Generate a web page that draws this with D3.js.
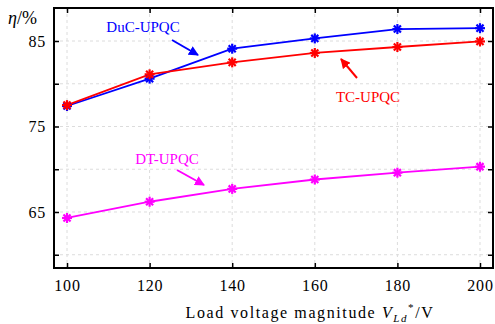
<!DOCTYPE html>
<html><head><meta charset="utf-8">
<script src="https://cdn.jsdelivr.net/npm/d3@7"></script>
<style>body{margin:0;background:#fff}</style>
</head><body><svg id="c" width="495" height="324"></svg>
<script>
const xValues = [100, 120, 140, 160, 180, 200];
const duc = [77.4, 80.6, 84.1, 85.3, 86.4, 86.5];
const tc = [77.5, 81.1, 82.5, 83.6, 84.3, 84.95];
const dt = [64.3, 66.2, 67.7, 68.8, 69.6, 70.3];
const xTicks = [100, 120, 140, 160, 180, 200];
const yTicks = [60, 65, 70, 75, 80, 85];
const yLabels = [65, 75, 85];
const series = [
  {name: "DuC-UPQC", values: duc, color: "#0000ff"},
  {name: "TC-UPQC", values: tc, color: "#ff0000"},
  {name: "DT-UPQC", values: dt, color: "#ff00ff"}
];
const svg = d3.select("#c");
const L = 54, R = 493, T = 8, B = 268;
const x = d3.scaleLinear().domain([96.85, 203.15]).range([L, R]);
const y = d3.scaleLinear().domain([58.45, 88.86]).range([B, T]);
const font = "Liberation Serif, Times New Roman, serif";

// grid
svg.append("g").selectAll("line.gx").data(xTicks).join("line")
  .attr("x1", d => x(d)).attr("x2", d => x(d)).attr("y1", T).attr("y2", B)
  .attr("stroke", "#dcdcdc").attr("stroke-dasharray", "3,3").attr("stroke-width", 1);
svg.append("g").selectAll("line.gy").data(yTicks).join("line")
  .attr("y1", d => y(d)).attr("y2", d => y(d)).attr("x1", L).attr("x2", R)
  .attr("stroke", "#dcdcdc").attr("stroke-dasharray", "3,3").attr("stroke-width", 1);

// axes
const ax = (g, axis) => { g.call(axis); g.select(".domain").remove();
  g.selectAll(".tick line").attr("stroke", "#000").attr("stroke-width", 1.5);
  g.selectAll("text").attr("font-family", font).attr("font-size", 16).attr("letter-spacing", 0.8).attr("fill", "#000"); };
svg.append("g").attr("transform", `translate(0,${B})`)
  .call(g => ax(g, d3.axisBottom(x).tickValues(xTicks).tickSize(-5).tickPadding(12)));
svg.append("g").attr("transform", `translate(0,${T})`)
  .call(g => ax(g, d3.axisTop(x).tickValues(xTicks).tickSize(-5).tickFormat("")));
svg.append("g").attr("transform", `translate(${L},0)`)
  .call(g => ax(g, d3.axisLeft(y).tickValues(yTicks).tickSize(-5).tickPadding(8)
    .tickFormat(d => yLabels.includes(d) ? d : "")));
svg.append("g").attr("transform", `translate(${R},0)`)
  .call(g => ax(g, d3.axisRight(y).tickValues(yTicks).tickSize(-5).tickFormat("")));
svg.append("rect").attr("x", L).attr("y", T).attr("width", R - L).attr("height", B - T)
  .attr("fill", "none").attr("stroke", "#000").attr("stroke-width", 2);

// lines
const line = d3.line().x((d, i) => x(xValues[i])).y(d => y(d));
const star = (g, cx, cy, color) => {
  const r = 5;
  for (let k = 0; k < 4; k++) {
    const a = k * Math.PI / 4;
    g.append("line").attr("x1", cx - r * Math.cos(a)).attr("y1", cy - r * Math.sin(a))
      .attr("x2", cx + r * Math.cos(a)).attr("y2", cy + r * Math.sin(a))
      .attr("stroke", color).attr("stroke-width", 2.2);
  }
};
series.forEach(s => {
  svg.append("path").datum(s.values).attr("d", line).attr("fill", "none")
    .attr("stroke", s.color).attr("stroke-width", 1.8);
});
series.forEach(s => {
  const g = svg.append("g");
  s.values.forEach((v, i) => star(g, x(xValues[i]), y(v), s.color));
});

// annotations
const defs = svg.append("defs");
series.forEach((s, i) => {
  defs.append("marker").attr("id", "ah" + i).attr("viewBox", "0 0 10 10").attr("refX", 9).attr("refY", 5)
    .attr("markerWidth", 5).attr("markerHeight", 5).attr("orient", "auto")
    .append("path").attr("d", "M0,0L10,5L0,10z").attr("fill", s.color);
});
const notes = [
  {i: 0, tx: 143, ty: 32, x1: 172, y1: 40, x2: 198, y2: 55},
  {i: 1, tx: 368, ty: 102, x1: 357, y1: 78, x2: 341, y2: 59},
  {i: 2, tx: 167, ty: 164, x1: 177, y1: 170, x2: 204, y2: 185}
];
notes.forEach(n => {
  const s = series[n.i];
  svg.append("text").attr("x", n.tx).attr("y", n.ty).attr("text-anchor", "middle")
    .attr("font-family", font).attr("font-size", 15).attr("fill", s.color).text(s.name);
  svg.append("line").attr("x1", n.x1).attr("y1", n.y1).attr("x2", n.x2).attr("y2", n.y2)
    .attr("stroke", s.color).attr("stroke-width", 2).attr("marker-end", `url(#ah${n.i})`);
});

// axis titles
const yt = svg.append("text").attr("x", 8).attr("y", 24).attr("font-family", font).attr("font-size", 18).attr("fill", "#000");
yt.append("tspan").attr("font-style", "italic").text("η");
yt.append("tspan").text("/%");
const xt = svg.append("text").attr("x", 310).attr("y", 318).attr("text-anchor", "middle")
  .attr("font-family", font).attr("font-size", 16).attr("letter-spacing", 1.6).attr("fill", "#000");
xt.append("tspan").text("Load voltage magnitude ");
xt.append("tspan").attr("font-style", "italic").text("V");
xt.append("tspan").attr("font-style", "italic").attr("font-size", 11).attr("dy", 4).text("Ld");
xt.append("tspan").attr("font-size", 11).attr("dy", -11).text("*");
xt.append("tspan").attr("dy", 7).text("/V");
</script></body></html>
